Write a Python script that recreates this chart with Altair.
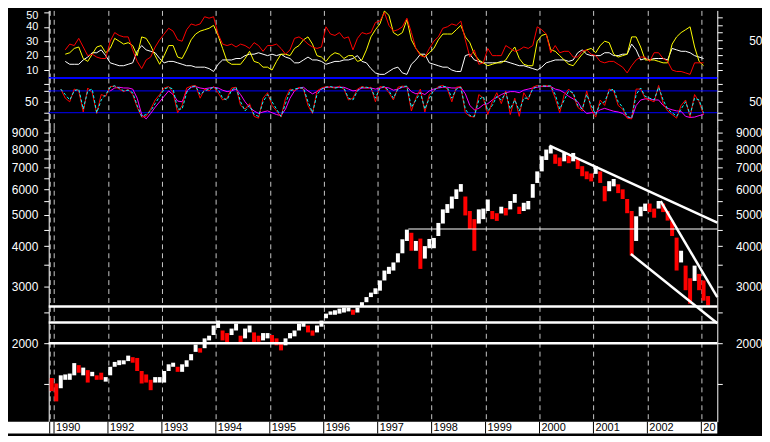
import altair as alt
import pandas as pd

FONT = "Liberation Sans"

# ---------------- time axis ----------------
MONTHS = [(1990, 12)] + [(y, m) for y in range(1991, 2003) for m in range(1, 13)] + [(2003, 1), (2003, 2)]
T = [y + (m - 0.5) / 12 for y, m in MONTHS]

X_DOMAIN = [1990.902, 2003.296]
XGRID = [1990.92] + list(range(1991, 2004))
YEAR_LABELS = ["", "1990", "1992", "1993", "1994", "1995", "1996", "1997",
               "1998", "1999", "2000", "2001", "2002", "20"]

# ---------------- price (monthly low / high / direction) ----------------
PRICE_LOW = (
    [1420]
    + [1320, 1450, 1540, 1540, 1590, 1620, 1590, 1510, 1580, 1540, 1540, 1520]
    + [1590, 1690, 1710, 1720, 1760, 1740, 1640, 1500, 1510, 1430, 1510, 1510]
    + [1510, 1640, 1690, 1630, 1630, 1690, 1770, 1880, 1870, 1930, 2040, 2120]
    + [2230, 2040, 2000, 2120, 2190, 2000, 2070, 2160, 2000, 2020, 2040, 2070]
    + [2000, 1970, 1900, 1970, 2070, 2100, 2190, 2250, 2160, 2110, 2160, 2250]
    + [2390, 2450, 2450, 2470, 2490, 2510, 2450, 2490, 2590, 2680, 2780, 2840]
    + [2910, 3130, 3280, 3360, 3560, 3800, 4150, 3870, 3870, 3400, 3660, 3940]
    + [3940, 4300, 4700, 5070, 5230, 5600, 5900, 4980, 4520, 3870, 4700, 4850]
    + [5140, 4850, 4790, 5050, 4980, 5200, 5450, 5030, 5140, 5200, 5650, 6280]
    + [6820, 7400, 7750, 7200, 7080, 7330, 7230, 7330, 6940, 6590, 6450, 6350]
    + [6700, 6280, 5510, 5920, 6130, 5840, 5600, 5060, 3740, 4150, 4950, 5140]
    + [5100, 4900, 5230, 5100, 4800, 4300, 3360, 3560, 2920, 2650, 3120, 2920]
    + [2710, 2620]
)
PRICE_HIGH = (
    [1560]
    + [1500, 1590, 1600, 1610, 1735, 1710, 1680, 1650, 1630, 1590, 1620, 1570]
    + [1690, 1750, 1770, 1770, 1830, 1810, 1800, 1640, 1600, 1540, 1570, 1570]
    + [1640, 1720, 1740, 1690, 1720, 1770, 1850, 1980, 1930, 2070, 2110, 2270]
    + [2350, 2190, 2150, 2220, 2300, 2110, 2220, 2270, 2160, 2110, 2150, 2150]
    + [2120, 2070, 2000, 2070, 2150, 2190, 2300, 2320, 2270, 2190, 2270, 2350]
    + [2470, 2510, 2530, 2560, 2580, 2580, 2540, 2580, 2680, 2780, 2870, 2960]
    + [3130, 3360, 3450, 3560, 3800, 4200, 4500, 4400, 4150, 4220, 4000, 4210]
    + [4240, 4720, 5200, 5400, 5700, 6000, 6230, 5700, 5140, 4850, 5200, 5230]
    + [5580, 5140, 5060, 5300, 5250, 5520, 5800, 5300, 5450, 5520, 6230, 6820]
    + [7600, 7970, 8180, 7700, 7530, 7780, 7620, 7780, 7480, 7080, 6820, 6720]
    + [7080, 6820, 6140, 6360, 6460, 6220, 6000, 5600, 5140, 4950, 5300, 5420]
    + [5420, 5230, 5520, 5420, 5140, 4800, 4250, 3870, 3480, 3180, 3480, 3280]
    + [3130, 2800]
)
PRICE_UP = (
    [0]
    + [0, 1, 1, 1, 1, 0, 1, 0, 1, 0, 0, 1]
    + [1, 1, 1, 1, 1, 0, 0, 0, 0, 0, 1, 1]
    + [1, 1, 1, 0, 1, 1, 1, 1, 0, 1, 1, 1]
    + [1, 0, 0, 1, 1, 0, 1, 1, 0, 0, 1, 1]
    + [0, 0, 0, 1, 1, 1, 1, 1, 0, 0, 1, 1]
    + [1, 1, 1, 1, 1, 1, 0, 1, 1, 1, 1, 1]
    + [1, 1, 1, 1, 1, 1, 1, 0, 1, 0, 1, 1]
    + [1, 1, 1, 1, 1, 1, 1, 0, 0, 0, 1, 1]
    + [1, 0, 0, 1, 0, 1, 1, 0, 1, 1, 1, 1]
    + [1, 1, 1, 0, 0, 1, 0, 1, 0, 0, 0, 0]
    + [1, 0, 0, 1, 1, 0, 0, 0, 0, 1, 1, 1]
    + [0, 0, 1, 0, 0, 0, 0, 1, 0, 0, 1, 0]
    + [0, 0]
)

# ---------------- top panel indicators (1991-03 .. 2003-01) ----------------
TOP_RED = (
    [24, 28, 27, 32, 26, 20, 21, 19, 18, 18]
    + [30, 36, 34, 33, 33, 24, 16, 11, 17, 19, 26, 31]
    + [35, 39, 37, 31, 30, 38, 42, 41, 42, 47, 46, 47]
    + [35, 28, 27, 28, 26, 28, 27, 25, 29, 27, 23, 27]
    + [27, 28, 25, 21, 24, 32, 33, 31, 28, 26, 25, 26]
    + [40, 35, 34, 36, 32, 33, 24, 32, 36, 35, 36, 43]
    + [44, 50, 41, 37, 38, 40, 46, 36, 25, 20, 19, 25]
    + [30, 33, 39, 40, 42, 41, 44, 31, 19, 24, 14, 15]
    + [25, 20, 20, 20, 27, 25, 23, 24, 26, 25, 27, 40]
    + [38, 35, 22, 27, 22, 23, 23, 19, 19, 23, 24, 21]
    + [20, 16, 15, 16, 16, 14, 12, 8, 13, 17, 19, 19]
    + [16, 22, 22, 18, 16, 10, 9, 9, 8, 7, 15, 15]
    + [15]
)
TOP_YELLOW = (
    [21, 22, 25, 26, 18, 16, 21, 26, 27, 22]
    + [25, 32, 30, 28, 29, 27, 20, 33, 32, 27, 20, 14]
    + [20, 27, 27, 19, 18, 24, 31, 35, 37, 38, 39, 41]
    + [34, 25, 16, 14, 14, 14, 18, 23, 16, 15, 12, 12]
    + [10, 16, 21, 21, 20, 25, 27, 31, 33, 28, 20, 19]
    + [16, 20, 22, 21, 18, 20, 20, 16, 17, 24, 33, 38]
    + [42, 51, 48, 36, 34, 36, 45, 31, 25, 21, 19, 22]
    + [25, 31, 35, 35, 35, 38, 41, 33, 29, 21, 17, 15]
    + [13, 14, 15, 15, 17, 22, 26, 18, 14, 13, 13, 30]
    + [34, 35, 24, 23, 20, 17, 14, 13, 17, 21, 24, 25]
    + [22, 27, 30, 29, 21, 19, 20, 21, 33, 33, 26, 17]
    + [17, 17, 16, 15, 15, 28, 33, 36, 38, 40, 26, 16]
    + [13]
)
TOP_WHITE = (
    [16, 14, 14, 14, 17, 19, 22, 22, 24, 20]
    + [15, 14, 13, 13, 14, 15, 23, 27, 24, 23, 22, 18]
    + [15, 16, 16, 15, 14, 13, 13, 12, 12, 12, 11, 9]
    + [14, 17, 17, 17, 18, 18, 20, 21, 21, 22, 21, 20]
    + [21, 20, 21, 19, 18, 15, 15, 17, 19, 17, 17, 16]
    + [14, 15, 16, 16, 17, 17, 18, 20, 16, 15, 11, 8]
    + [7, 7, 9, 11, 12, 8, 7, 14, 17, 21, 21, 15]
    + [14, 13, 12, 12, 10, 9, 9, 20, 21, 17, 16, 15]
    + [15, 15, 15, 16, 16, 15, 14, 13, 13, 12, 11, 10]
    + [12, 15, 16, 17, 17, 17, 16, 17, 22, 24, 21, 20]
    + [20, 20, 22, 22, 20, 20, 21, 21, 28, 24, 17, 18]
    + [17, 18, 18, 18, 17, 25, 24, 23, 23, 22, 20, 19]
    + [18]
)

# ---------------- middle panel oscillators ----------------
MID_RED = (  # 1991-02 .. 2003-01
    [85, 60, 50, 85, 80, 22, 88, 75, 18, 70, 65]
    + [92, 93, 85, 78, 84, 70, 35, 8, 10, 30, 55, 70]
    + [88, 92, 75, 20, 40, 88, 93, 95, 60, 85, 80, 92]
    + [75, 55, 60, 88, 90, 40, 30, 45, 10, 5, 60, 75]
    + [40, 25, 8, 60, 85, 80, 90, 85, 40, 18, 80, 88]
    + [92, 90, 88, 93, 85, 55, 60, 85, 92, 88, 90, 50]
    + [92, 90, 75, 55, 90, 93, 92, 25, 60, 85, 22, 70]
    + [80, 92, 95, 85, 50, 90, 92, 20, 10, 8, 70, 60]
    + [15, 50, 75, 45, 80, 15, 60, 10, 75, 55, 90, 95]
    + [93, 95, 92, 60, 20, 70, 85, 70, 35, 25, 80, 30]
    + [8, 55, 40, 85, 80, 40, 30, 5, 3, 85, 85, 60]
    + [55, 50, 95, 45, 25, 15, 5, 40, 55, 8, 70, 50]
    + [15]
)
MID_CYAN = (  # 1991-02 .. 2003-01
    [85, 70, 55, 80, 85, 30, 80, 85, 20, 55, 70]
    + [90, 94, 88, 80, 82, 75, 40, 10, 15, 25, 45, 65]
    + [85, 90, 85, 30, 30, 75, 92, 93, 70, 80, 85, 90]
    + [85, 60, 55, 82, 90, 50, 25, 40, 15, 10, 50, 70]
    + [50, 30, 10, 45, 80, 85, 88, 88, 50, 20, 70, 85]
    + [90, 92, 88, 90, 88, 60, 55, 80, 90, 90, 88, 60]
    + [88, 92, 80, 60, 85, 92, 93, 35, 55, 75, 30, 60]
    + [82, 90, 93, 90, 60, 85, 90, 30, 12, 10, 55, 65]
    + [25, 40, 65, 55, 75, 30, 55, 25, 60, 60, 85, 93]
    + [94, 93, 94, 70, 30, 55, 80, 75, 40, 30, 70, 40]
    + [15, 45, 50, 80, 85, 50, 35, 10, 5, 70, 88, 65]
    + [60, 55, 90, 55, 30, 20, 10, 30, 50, 15, 60, 55]
    + [20]
)
MID_MAGENTA = (  # 1992-01 .. 2003-01
    [80, 88, 90, 88, 88, 85, 60, 15, 3, 18, 35, 50]
    + [65, 80, 70, 52, 50, 80, 90, 92, 88, 86, 88, 90]
    + [88, 82, 78, 80, 85, 70, 50, 35, 25, 18, 22, 25]
    + [20, 15, 12, 30, 60, 80, 88, 90, 80, 72, 78, 85]
    + [90, 90, 90, 90, 90, 85, 80, 82, 88, 88, 88, 85]
    + [88, 90, 88, 82, 85, 90, 92, 78, 72, 75, 70, 80]
    + [85, 88, 90, 90, 88, 88, 90, 72, 40, 28, 32, 42]
    + [45, 55, 62, 70, 75, 78, 78, 75, 82, 85, 88, 90]
    + [92, 92, 92, 85, 82, 75, 65, 58, 50, 30, 18, 20]
    + [20, 28, 32, 28, 24, 22, 18, 8, 5, 40, 55, 58]
    + [58, 55, 55, 40, 32, 28, 25, 24, 10, 7, 8, 12]
    + [15]
)
STOCH_LEVELS = [20, 80]
SEP_LEVEL = [0]

# ---------------- price-panel reference lines ----------------
H_LEVELS = [2000, 2320, 2600]
RES_START = [1997.569]
RES_END = [2003.296]
RES_LEVEL = [4520]
TREND_T0 = [2000.184, 2002.247, 2001.694]
TREND_V0 = [8204, 5515, 3780]
TREND_T1 = [2003.296, 2003.296, 2003.296]
TREND_V1 = [4728, 2778, 2305]
MAIN_TICKS = [1500, 2000, 2500, 3000, 3500, 4000, 4500, 5000, 5500, 6000, 6500, 7000, 7500, 8000, 8500, 9000]

assert len(PRICE_LOW) == len(PRICE_HIGH) == len(PRICE_UP) == len(T)
assert len(TOP_RED) == len(TOP_YELLOW) == len(TOP_WHITE) == len(T[3:146])
assert len(MID_RED) == len(MID_CYAN) == len(T[2:146])
assert len(MID_MAGENTA) == len(T[13:146])

# ---------------- data frames ----------------
price_df = pd.DataFrame({"t": T, "low": PRICE_LOW, "high": PRICE_HIGH,
                         "dir": ["up" if u else "down" for u in PRICE_UP]})
top_df = pd.DataFrame({"t": T[3:146], "red": TOP_RED, "yellow": TOP_YELLOW, "white": TOP_WHITE})
mid_df = pd.DataFrame({"t": T[2:146], "red": MID_RED, "cyan": MID_CYAN})
mag_df = pd.DataFrame({"t": T[13:146], "magenta": MID_MAGENTA})
trend_df = pd.DataFrame({"t0": TREND_T0, "t1": TREND_T1, "v0": TREND_V0, "v1": TREND_V1})
res_df = pd.DataFrame({"t0": RES_START, "t1": RES_END, "level": RES_LEVEL})
band_df = pd.DataFrame({"t": XGRID, "label": YEAR_LABELS})

W = 673
xscale = alt.Scale(domain=X_DOMAIN, nice=False, zero=False)
xgrid = alt.Axis(values=XGRID, grid=True, gridColor="#c8c8c8", gridDash=[5, 4], gridWidth=1,
                 labels=False, ticks=False, domain=False, title=None)


def X(field="t"):
    return alt.X(f"{field}:Q", scale=xscale, axis=xgrid)


def yaxis(orient, values, label_expr=None, **kw):
    opts = dict(orient=orient, values=values, title=None, grid=False, tickSize=5,
                labelOverlap=False)
    if orient == "left":
        opts.update(labelPadding=6)
    else:
        opts.update(labelPadding=40, labelAlign="right")
    if label_expr:
        opts["labelExpr"] = label_expr
    opts.update(kw)
    return alt.Axis(**opts)


# ---------------- top panel ----------------
top_scale = alt.Scale(domain=[4.5, 51.4], nice=False, zero=False)
top_left = yaxis("left", [10, 20, 30, 40, 50], labelFontSize=11,
                 labelOffset={"condition": {"test": "datum.value == 50", "value": 3.5}, "value": 0})


def top_line(col, color):
    return alt.Chart(top_df).mark_line(color=color, strokeWidth=1, clip=True).encode(
        x=X(), y=alt.Y(f"{col}:Q", scale=top_scale, axis=top_left))


top_lines = alt.layer(top_line("white", "#ffffff"), top_line("yellow", "#ffff00"),
                      top_line("red", "#ff0000"))
sep = alt.Chart(pd.DataFrame({"level": SEP_LEVEL})).mark_rule(color="#0000ff", strokeWidth=2).encode(
    y=alt.Y("level:Q", scale=alt.Scale(domain=[0, 89.5], nice=False, zero=False),
            axis=yaxis("right", [10, 20, 30, 40, 50, 60, 70, 80], "datum.value == 50 ? '50' : ''")))
top = alt.layer(top_lines, sep).resolve_scale(y="independent").properties(width=W, height=68)

# ---------------- middle panel ----------------
mid_scale = alt.Scale(domain=[-21.0, 115.6], nice=False, zero=False)
mid_vals = [0, 20, 50, 80, 100]
levels = alt.Chart(pd.DataFrame({"level": STOCH_LEVELS})).mark_rule(color="#0000ff", strokeWidth=1).encode(
    y=alt.Y("level:Q", scale=mid_scale, axis=yaxis("left", mid_vals, "datum.value == 50 ? '50' : ''")))
mag = alt.Chart(mag_df).mark_line(color="#ff00ff", strokeWidth=1).encode(
    x=X(), y=alt.Y("magenta:Q", scale=mid_scale, axis=None))
mred = alt.Chart(mid_df).mark_line(color="#ff0000", strokeWidth=1).encode(
    x=X(), y=alt.Y("red:Q", scale=mid_scale, axis=None))
mcyan = alt.Chart(mid_df).mark_line(color="#00ffff", strokeWidth=1, strokeDash=[3, 2]).encode(
    x=X(), y=alt.Y("cyan:Q", scale=mid_scale,
                   axis=yaxis("right", mid_vals, "datum.value == 50 ? '50' : ''")))
mid = alt.layer(levels, mag, mred, mcyan).resolve_axis(y="independent").properties(width=W, height=50)

# ---------------- main price panel ----------------
main_scale = alt.Scale(type="log", domain=[1142, 9322], nice=False)
main_expr = "datum.value >= 2000 && datum.value % 1000 == 0 ? format(datum.value, 'd') : ''"
bars = alt.Chart(price_df).mark_rule(strokeWidth=4).encode(
    x=X(),
    y=alt.Y("low:Q", scale=main_scale, axis=yaxis("left", MAIN_TICKS, main_expr)),
    y2="high:Q",
    color=alt.Color("dir:N", scale=alt.Scale(domain=["up", "down"], range=["#ffffff", "#ff0000"]),
                    legend=None))
hl = alt.Chart(pd.DataFrame({"level": H_LEVELS})).mark_rule(color="white", strokeWidth=2.5).encode(
    y=alt.Y("level:Q", scale=main_scale, axis=None))
res = alt.Chart(res_df).mark_rule(color="white", strokeWidth=1).encode(
    x=X("t0"), x2="t1:Q", y=alt.Y("level:Q", scale=main_scale, axis=None))
trend = alt.Chart(trend_df).mark_rule(color="white", strokeWidth=2.5).encode(
    x=X("t0"), x2="t1:Q",
    y=alt.Y("v0:Q", scale=main_scale, axis=yaxis("right", MAIN_TICKS, main_expr)),
    y2="v1:Q")
main = alt.layer(bars, hl, res, trend).resolve_axis(y="independent").properties(width=W, height=296)

# ---------------- date band ----------------
band_bg = alt.Chart(pd.DataFrame({"k": [0]})).mark_rect(color="white").encode(
    x=alt.value(-41), x2=alt.value(W), y=alt.value(0), y2=alt.value(12))
band_ticks = alt.Chart(band_df).mark_rule(color="black", strokeWidth=1).encode(
    x=alt.X("t:Q", scale=xscale, axis=None))
band_text = alt.Chart(band_df).mark_text(align="left", baseline="middle", dx=2, color="black",
                                         font=FONT, fontSize=11).encode(
    x=alt.X("t:Q", scale=xscale, axis=None), text="label:N")
band = alt.layer(band_bg, band_ticks, band_text).properties(width=W, height=12)

chart = alt.vconcat(top, mid, main, band, spacing=0, bounds="flush").properties(
    background="black", padding=0
).configure_view(stroke=None).configure_axis(
    labelFont=FONT, labelFontSize=12, labelColor="white", tickColor="white",
    domainColor="white", tickSize=5, labelOverlap=False
)

chart.save("out.html", embed_options={"renderer": "svg", "actions": False})
